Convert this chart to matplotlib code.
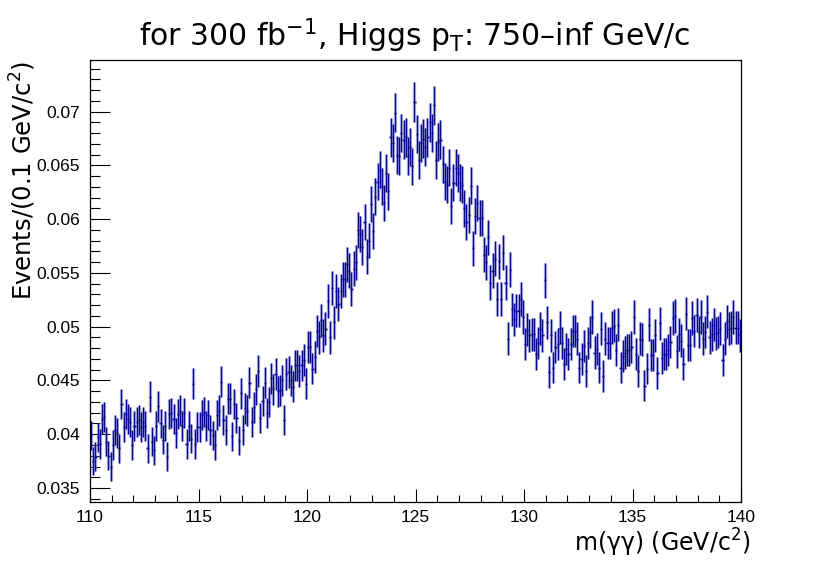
import numpy as np
import matplotlib
matplotlib.use("Agg")
import matplotlib.pyplot as plt
from matplotlib.ticker import MultipleLocator, FuncFormatter

# binning of the histogram: 300 bins of 0.1 GeV between 110 and 140
m_low, m_high, n_bins = 110.0, 140.0, 300

# bin contents, one list per 5 GeV
events_110_115 = [
    0.0399, 0.0375, 0.0379, 0.0397, 0.0391, 0.0414, 0.0416, 0.0393, 0.0380, 0.0370,
    0.0390, 0.0404, 0.0401, 0.0387, 0.0428, 0.0407, 0.0419, 0.0414, 0.0411, 0.0390,
    0.0408, 0.0411, 0.0413, 0.0407, 0.0411, 0.0408, 0.0387, 0.0435, 0.0393, 0.0385,
    0.0408, 0.0426, 0.0410, 0.0395, 0.0408, 0.0379, 0.0419, 0.0420, 0.0414, 0.0401,
    0.0419, 0.0422, 0.0408, 0.0420, 0.0391, 0.0408, 0.0396, 0.0447, 0.0391, 0.0407,
]
events_115_120 = [
    0.0407, 0.0418, 0.0421, 0.0408, 0.0418, 0.0404, 0.0399, 0.0390, 0.0418, 0.0422,
    0.0449, 0.0413, 0.0404, 0.0433, 0.0433, 0.0398, 0.0428, 0.0415, 0.0394, 0.0438,
    0.0404, 0.0424, 0.0422, 0.0448, 0.0411, 0.0425, 0.0442, 0.0459, 0.0415, 0.0431,
    0.0448, 0.0420, 0.0430, 0.0452, 0.0442, 0.0456, 0.0440, 0.0441, 0.0450, 0.0413,
    0.0456, 0.0458, 0.0450, 0.0444, 0.0464, 0.0464, 0.0459, 0.0464, 0.0469, 0.0447,
]
events_120_125 = [
    0.0481, 0.0481, 0.0461, 0.0472, 0.0496, 0.0490, 0.0506, 0.0492, 0.0498, 0.0524,
    0.0490, 0.0536, 0.0504, 0.0533, 0.0521, 0.0533, 0.0544, 0.0544, 0.0558, 0.0552,
    0.0535, 0.0554, 0.0560, 0.0590, 0.0586, 0.0574, 0.0597, 0.0565, 0.0580, 0.0614,
    0.0589, 0.0621, 0.0635, 0.0646, 0.0630, 0.0615, 0.0643, 0.0626, 0.0676, 0.0671,
    0.0699, 0.0660, 0.0659, 0.0680, 0.0674, 0.0676, 0.0659, 0.0667, 0.0649, 0.0709,
]
events_125_130 = [
    0.0679, 0.0655, 0.0671, 0.0675, 0.0667, 0.0676, 0.0690, 0.0680, 0.0706, 0.0655,
    0.0672, 0.0674, 0.0651, 0.0635, 0.0632, 0.0648, 0.0612, 0.0634, 0.0648, 0.0643,
    0.0634, 0.0632, 0.0610, 0.0597, 0.0604, 0.0631, 0.0573, 0.0603, 0.0615, 0.0601,
    0.0601, 0.0567, 0.0560, 0.0583, 0.0541, 0.0552, 0.0563, 0.0526, 0.0561, 0.0526,
    0.0569, 0.0541, 0.0489, 0.0553, 0.0516, 0.0507, 0.0515, 0.0515, 0.0526, 0.0509,
]
events_130_135 = [
    0.0484, 0.0497, 0.0492, 0.0493, 0.0493, 0.0475, 0.0485, 0.0498, 0.0492, 0.0543,
    0.0504, 0.0458, 0.0492, 0.0462, 0.0481, 0.0484, 0.0499, 0.0485, 0.0465, 0.0479,
    0.0475, 0.0484, 0.0496, 0.0496, 0.0489, 0.0462, 0.0470, 0.0482, 0.0459, 0.0485,
    0.0495, 0.0509, 0.0476, 0.0479, 0.0462, 0.0498, 0.0454, 0.0489, 0.0485, 0.0485,
    0.0499, 0.0501, 0.0478, 0.0502, 0.0462, 0.0473, 0.0476, 0.0478, 0.0478, 0.0481,
]
events_135_140 = [
    0.0509, 0.0475, 0.0459, 0.0489, 0.0488, 0.0445, 0.0461, 0.0502, 0.0474, 0.0474,
    0.0492, 0.0457, 0.0503, 0.0471, 0.0475, 0.0475, 0.0478, 0.0486, 0.0508, 0.0510,
    0.0477, 0.0493, 0.0487, 0.0465, 0.0512, 0.0483, 0.0483, 0.0508, 0.0496, 0.0511,
    0.0495, 0.0509, 0.0489, 0.0495, 0.0514, 0.0490, 0.0493, 0.0502, 0.0494, 0.0495,
    0.0498, 0.0469, 0.0489, 0.0505, 0.0498, 0.0499, 0.0509, 0.0499, 0.0499, 0.0492,
]

event_weight = 4.7e-5

events = np.array(
    events_110_115 + events_115_120 + events_120_125
    + events_125_130 + events_130_135 + events_135_140
)
edges = np.linspace(m_low, m_high, n_bins + 1)
centers = 0.5 * (edges[1:] + edges[:-1])
half_width = 0.5 * (edges[1] - edges[0])
errors = np.sqrt(event_weight * events)

fig = plt.figure(figsize=(8.3, 5.63), dpi=100)
ax = fig.add_axes([90 / 830, 1 - 502 / 563, 651 / 830, 442 / 563])

blue = "#08088f"
# soft halo like the anti-aliased ROOT rendering
ax.errorbar(centers, events, yerr=errors, xerr=half_width, fmt="none",
            ecolor="#8a8ad6", elinewidth=2.4, capsize=0, alpha=0.5)
ax.errorbar(centers, events, yerr=errors, xerr=half_width, fmt="none",
            ecolor=blue, elinewidth=1.0, capsize=0)

ax.set_xlim(m_low, m_high)
ax.set_ylim(0.0337, 0.0748)

ax.xaxis.set_major_locator(MultipleLocator(5))
ax.xaxis.set_minor_locator(MultipleLocator(1))
ax.yaxis.set_major_locator(MultipleLocator(0.005))
ax.yaxis.set_minor_locator(MultipleLocator(0.001))
ax.yaxis.set_major_formatter(FuncFormatter(lambda v, p: f"{v:g}"))

ax.tick_params(axis="y", which="major", direction="in", length=14.4,
               width=0.8, pad=7, labelsize=12.5)
ax.tick_params(axis="y", which="minor", direction="in", length=7.2, width=0.8)
ax.tick_params(axis="x", which="major", direction="in", length=9.4,
               width=0.8, pad=6, labelsize=12.5)
ax.tick_params(axis="x", which="minor", direction="in", length=4.7, width=0.8)
for label in ax.get_xticklabels() + ax.get_yticklabels():
    label.set_family("Liberation Sans")
for spine in ax.spines.values():
    spine.set_linewidth(0.9)

fig.text(0.5, 1 - 36 / 563,
         r"for 300 fb$^{-1}$, Higgs p$_{\mathrm{T}}$: 750–inf GeV/c",
         ha="center", va="center", fontsize=21.5, family="DejaVu Sans")
fig.text(23 / 830, 1 - 61 / 563, r"Events/(0.1 GeV/c$^{2}$)",
         rotation=90, ha="center", va="top", fontsize=17.5, family="DejaVu Sans")
fig.text(751 / 830, 1 - 543 / 563, r"m(γγ) (GeV/c$^{2}$)",
         ha="right", va="center", fontsize=17, family="DejaVu Sans")

fig.savefig("out.png", dpi=100)
